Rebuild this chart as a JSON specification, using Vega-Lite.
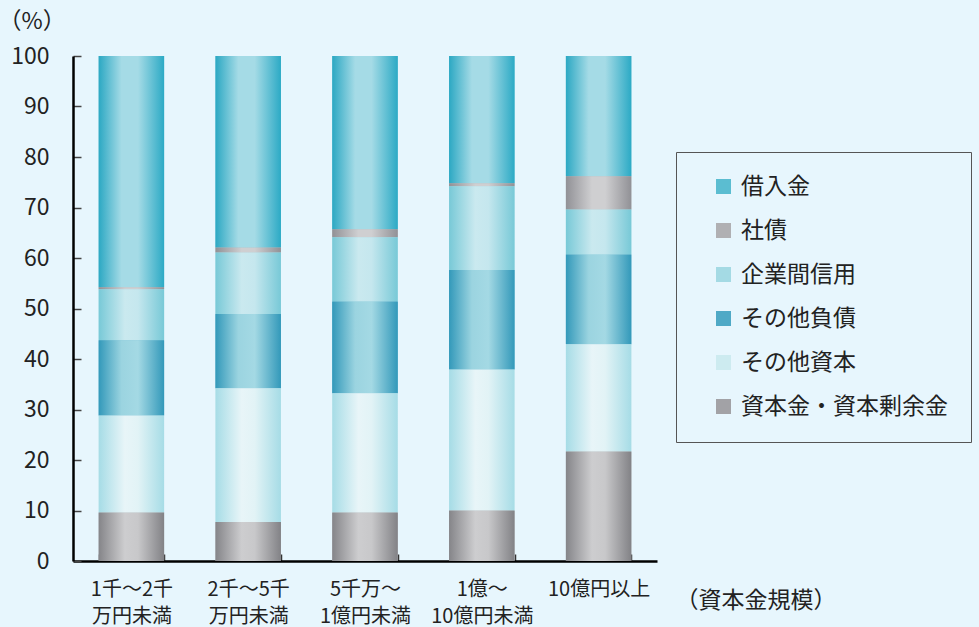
{
  "$schema": "https://vega.github.io/schema/vega-lite/v6.json",
  "autosize": "none",
  "width": 584,
  "height": 505,
  "padding": {"left": 73, "top": 56, "right": 322, "bottom": 66},
  "background": "#e7f6fd",
  "data": {"values": [
    {"size": "1千〜2千|万円未満", "item": "資本金・資本剰余金", "value": 9.6, "ord": 1},
    {"size": "1千〜2千|万円未満", "item": "その他資本", "value": 19.2, "ord": 2},
    {"size": "1千〜2千|万円未満", "item": "その他負債", "value": 14.9, "ord": 3},
    {"size": "1千〜2千|万円未満", "item": "企業間信用", "value": 10.1, "ord": 4},
    {"size": "1千〜2千|万円未満", "item": "社債", "value": 0.4, "ord": 5},
    {"size": "1千〜2千|万円未満", "item": "借入金", "value": 45.8, "ord": 6},
    {"size": "2千〜5千|万円未満", "item": "資本金・資本剰余金", "value": 7.7, "ord": 1},
    {"size": "2千〜5千|万円未満", "item": "その他資本", "value": 26.5, "ord": 2},
    {"size": "2千〜5千|万円未満", "item": "その他負債", "value": 14.7, "ord": 3},
    {"size": "2千〜5千|万円未満", "item": "企業間信用", "value": 12.2, "ord": 4},
    {"size": "2千〜5千|万円未満", "item": "社債", "value": 1.0, "ord": 5},
    {"size": "2千〜5千|万円未満", "item": "借入金", "value": 37.9, "ord": 6},
    {"size": "5千万〜|1億円未満", "item": "資本金・資本剰余金", "value": 9.6, "ord": 1},
    {"size": "5千万〜|1億円未満", "item": "その他資本", "value": 23.6, "ord": 2},
    {"size": "5千万〜|1億円未満", "item": "その他負債", "value": 18.2, "ord": 3},
    {"size": "5千万〜|1億円未満", "item": "企業間信用", "value": 12.7, "ord": 4},
    {"size": "5千万〜|1億円未満", "item": "社債", "value": 1.6, "ord": 5},
    {"size": "5千万〜|1億円未満", "item": "借入金", "value": 34.3, "ord": 6},
    {"size": "1億〜|10億円未満", "item": "資本金・資本剰余金", "value": 10.0, "ord": 1},
    {"size": "1億〜|10億円未満", "item": "その他資本", "value": 27.9, "ord": 2},
    {"size": "1億〜|10億円未満", "item": "その他負債", "value": 19.7, "ord": 3},
    {"size": "1億〜|10億円未満", "item": "企業間信用", "value": 16.6, "ord": 4},
    {"size": "1億〜|10億円未満", "item": "社債", "value": 0.6, "ord": 5},
    {"size": "1億〜|10億円未満", "item": "借入金", "value": 25.2, "ord": 6},
    {"size": "10億円以上", "item": "資本金・資本剰余金", "value": 21.7, "ord": 1},
    {"size": "10億円以上", "item": "その他資本", "value": 21.2, "ord": 2},
    {"size": "10億円以上", "item": "その他負債", "value": 17.8, "ord": 3},
    {"size": "10億円以上", "item": "企業間信用", "value": 8.9, "ord": 4},
    {"size": "10億円以上", "item": "社債", "value": 6.6, "ord": 5},
    {"size": "10億円以上", "item": "借入金", "value": 23.8, "ord": 6}
  ]},
  "transform": [
    {"stack": "value", "groupby": ["size"], "sort": [{"field": "ord", "order": "ascending"}], "as": ["y0", "y1"]}
  ],
  "encoding": {
    "x": {
      "field": "size", "type": "nominal", "sort": null,
      "scale": {"paddingInner": 0.44, "paddingOuter": 0.22},
      "axis": {
        "title": "（資本金規模）", "titleFontSize": 23, "titleFontWeight": "normal",
        "titleColor": "#222", "titleAngle": 0, "titleAlign": "left", "titleBaseline": "middle",
        "titleX": 602, "titleY": 39,
        "labelAngle": 0, "labelExpr": "split(datum.label, '|')", "labelLineHeight": 27,
        "labelFontSize": 20, "labelColor": "#222", "labelPadding": 25, "labelBaseline": "top",
        "tickBand": "extent", "tickSize": -7, "tickColor": "#333", "tickWidth": 1.5,
        "domainColor": "#000", "domainWidth": 2.5
      }
    },
    "y": {
      "field": "y0", "type": "quantitative",
      "scale": {"domain": [0, 100], "nice": false},
      "axis": {
        "title": "（%）", "titleFontSize": 23, "titleFontWeight": "normal", "titleColor": "#222",
        "titleAngle": 0, "titleAlign": "left", "titleBaseline": "middle", "titleX": -75, "titleY": -35,
        "values": [0, 10, 20, 30, 40, 50, 60, 70, 80, 90, 100],
        "grid": false, "labelFontSize": 23, "labelColor": "#222", "labelPadding": 32,
        "tickSize": -8, "tickColor": "#444", "tickWidth": 1.5,
        "domainColor": "#000", "domainWidth": 2.5
      }
    },
    "y2": {"field": "y1"}
  },
  "layer": [
    {
      "mark": {"type": "bar"},
      "encoding": {
        "color": {
          "field": "item", "type": "nominal",
          "scale": {
            "domain": ["借入金", "社債", "企業間信用", "その他負債", "その他資本", "資本金・資本剰余金"],
            "range": ["#5bbdd1", "#b0b0b3", "#a4dae4", "#4fa9c6", "#cdebf0", "#a2a2a6"]
          },
          "legend": {
            "title": null, "orient": "none", "legendX": 603, "legendY": 96,
            "padding": 23, "symbolOffset": 13, "symbolType": "square", "symbolSize": 225,
            "symbolStrokeWidth": 0, "labelFontSize": 23, "labelColor": "#222", "labelOffset": 6,
            "rowPadding": 20, "labelLimit": 300,
            "strokeColor": "#555", "fillColor": "#e7f6fd"
          }
        }
      }
    },
    {
      "transform": [{"filter": "datum.item === '借入金'"}],
      "mark": {"type": "bar", "color": {"gradient": "linear", "x1": 0, "y1": 0, "x2": 1, "y2": 0, "stops": [{"offset": 0, "color": "#2ca8c3"}, {"offset": 0.35, "color": "#a5dbe6"}, {"offset": 0.6, "color": "#a5dbe6"}, {"offset": 1, "color": "#2caac5"}]}}
    },
    {
      "transform": [{"filter": "datum.item === '社債'"}],
      "mark": {"type": "bar", "color": {"gradient": "linear", "x1": 0, "y1": 0, "x2": 1, "y2": 0, "stops": [{"offset": 0, "color": "#919196"}, {"offset": 0.4, "color": "#cfcfd1"}, {"offset": 0.6, "color": "#cfcfd1"}, {"offset": 1, "color": "#919196"}]}}
    },
    {
      "transform": [{"filter": "datum.item === '企業間信用'"}],
      "mark": {"type": "bar", "color": {"gradient": "linear", "x1": 0, "y1": 0, "x2": 1, "y2": 0, "stops": [{"offset": 0, "color": "#78c9d7"}, {"offset": 0.4, "color": "#cae9ef"}, {"offset": 0.6, "color": "#c5e7ee"}, {"offset": 1, "color": "#78c9d7"}]}}
    },
    {
      "transform": [{"filter": "datum.item === 'その他負債'"}],
      "mark": {"type": "bar", "color": {"gradient": "linear", "x1": 0, "y1": 0, "x2": 1, "y2": 0, "stops": [{"offset": 0, "color": "#3399ba"}, {"offset": 0.35, "color": "#9bd4e0"}, {"offset": 0.6, "color": "#a4d9e4"}, {"offset": 1, "color": "#3399ba"}]}}
    },
    {
      "transform": [{"filter": "datum.item === 'その他資本'"}],
      "mark": {"type": "bar", "color": {"gradient": "linear", "x1": 0, "y1": 0, "x2": 1, "y2": 0, "stops": [{"offset": 0, "color": "#a6dce6"}, {"offset": 0.4, "color": "#e8f5f8"}, {"offset": 0.6, "color": "#e2f3f6"}, {"offset": 1, "color": "#a6dce6"}]}}
    },
    {
      "transform": [{"filter": "datum.item === '資本金・資本剰余金'"}],
      "mark": {"type": "bar", "color": {"gradient": "linear", "x1": 0, "y1": 0, "x2": 1, "y2": 0, "stops": [{"offset": 0, "color": "#858589"}, {"offset": 0.4, "color": "#cdcdcf"}, {"offset": 0.6, "color": "#c8c8ca"}, {"offset": 1, "color": "#828286"}]}}
    }
  ],
  "config": {
    "font": "Noto Sans CJK JP",
    "view": {"stroke": null}
  }
}
